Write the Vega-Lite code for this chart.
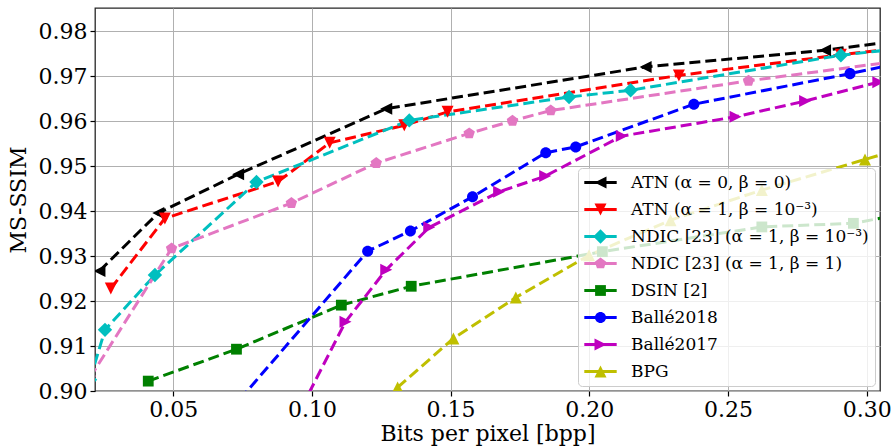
{
  "$schema": "https://vega.github.io/schema/vega-lite/v6.json",
  "width": 785,
  "height": 383,
  "autosize": {"type": "none"},
  "padding": {"left": 95, "top": 8, "right": 15, "bottom": 55},
  "background": "white",
  "config": {
    "font": "DejaVu Serif",
    "view": {"stroke": "#262626", "strokeWidth": 1.3},
    "axis": {
      "labelFont": "DejaVu Serif", "labelFontSize": 22, "labelColor": "#000000",
      "titleFont": "DejaVu Serif", "titleFontSize": 22, "titleFontWeight": "normal", "titleColor": "#000000",
      "gridColor": "#b0b0b0", "gridWidth": 1, "gridOpacity": 1,
      "tickColor": "#000000", "tickSize": 5, "tickWidth": 1.2,
      "domain": false, "labelPadding": 3, "labelOverlap": false
    },
    "legend": {
      "orient": "none", "legendX": 483, "legendY": 160, "title": null,
      "labelFont": "DejaVu Serif", "labelFontSize": 17, "labelColor": "#000000", "labelLimit": 400,
      "padding": 6, "symbolSize": 144, "symbolOffset": 8, "labelOffset": 22, "rowPadding": 9
    }
  },
  "data": {"values": [
    {"method": "ATN (α = 0, β = 0)", "bpp": 0.0234, "msssim": 0.9267},
    {"method": "ATN (α = 0, β = 0)", "bpp": 0.0446, "msssim": 0.9396},
    {"method": "ATN (α = 0, β = 0)", "bpp": 0.0734, "msssim": 0.9482},
    {"method": "ATN (α = 0, β = 0)", "bpp": 0.1268, "msssim": 0.9628},
    {"method": "ATN (α = 0, β = 0)", "bpp": 0.2203, "msssim": 0.9721},
    {"method": "ATN (α = 0, β = 0)", "bpp": 0.2850, "msssim": 0.9758},
    {"method": "ATN (α = 0, β = 0)", "bpp": 0.3200, "msssim": 0.9786},
    {"method": "ATN (α = 1, β = 10⁻³)", "bpp": 0.0275, "msssim": 0.9228},
    {"method": "ATN (α = 1, β = 10⁻³)", "bpp": 0.0470, "msssim": 0.9384},
    {"method": "ATN (α = 1, β = 10⁻³)", "bpp": 0.0878, "msssim": 0.9466},
    {"method": "ATN (α = 1, β = 10⁻³)", "bpp": 0.1064, "msssim": 0.9552},
    {"method": "ATN (α = 1, β = 10⁻³)", "bpp": 0.1333, "msssim": 0.9591},
    {"method": "ATN (α = 1, β = 10⁻³)", "bpp": 0.1489, "msssim": 0.9621},
    {"method": "ATN (α = 1, β = 10⁻³)", "bpp": 0.2323, "msssim": 0.9702},
    {"method": "ATN (α = 1, β = 10⁻³)", "bpp": 0.2907, "msssim": 0.9748},
    {"method": "ATN (α = 1, β = 10⁻³)", "bpp": 0.3200, "msssim": 0.9768},
    {"method": "NDIC [23] (α = 1, β = 10⁻³)", "bpp": 0.0200, "msssim": 0.9025},
    {"method": "NDIC [23] (α = 1, β = 10⁻³)", "bpp": 0.0254, "msssim": 0.9136},
    {"method": "NDIC [23] (α = 1, β = 10⁻³)", "bpp": 0.0434, "msssim": 0.9258},
    {"method": "NDIC [23] (α = 1, β = 10⁻³)", "bpp": 0.0800, "msssim": 0.9465},
    {"method": "NDIC [23] (α = 1, β = 10⁻³)", "bpp": 0.1351, "msssim": 0.9602},
    {"method": "NDIC [23] (α = 1, β = 10⁻³)", "bpp": 0.1927, "msssim": 0.9654},
    {"method": "NDIC [23] (α = 1, β = 10⁻³)", "bpp": 0.2149, "msssim": 0.9669},
    {"method": "NDIC [23] (α = 1, β = 10⁻³)", "bpp": 0.2907, "msssim": 0.9747},
    {"method": "NDIC [23] (α = 1, β = 10⁻³)", "bpp": 0.3200, "msssim": 0.9767},
    {"method": "NDIC [23] (α = 1, β = 1)", "bpp": 0.0200, "msssim": 0.9030},
    {"method": "NDIC [23] (α = 1, β = 1)", "bpp": 0.0494, "msssim": 0.9317},
    {"method": "NDIC [23] (α = 1, β = 1)", "bpp": 0.0926, "msssim": 0.9418},
    {"method": "NDIC [23] (α = 1, β = 1)", "bpp": 0.1232, "msssim": 0.9507},
    {"method": "NDIC [23] (α = 1, β = 1)", "bpp": 0.1567, "msssim": 0.9573},
    {"method": "NDIC [23] (α = 1, β = 1)", "bpp": 0.1723, "msssim": 0.9601},
    {"method": "NDIC [23] (α = 1, β = 1)", "bpp": 0.1861, "msssim": 0.9624},
    {"method": "NDIC [23] (α = 1, β = 1)", "bpp": 0.2574, "msssim": 0.9690},
    {"method": "NDIC [23] (α = 1, β = 1)", "bpp": 0.3200, "msssim": 0.9741},
    {"method": "DSIN [2]", "bpp": 0.0410, "msssim": 0.9022},
    {"method": "DSIN [2]", "bpp": 0.0728, "msssim": 0.9093},
    {"method": "DSIN [2]", "bpp": 0.1106, "msssim": 0.9191},
    {"method": "DSIN [2]", "bpp": 0.1358, "msssim": 0.9233},
    {"method": "DSIN [2]", "bpp": 0.2047, "msssim": 0.9310},
    {"method": "DSIN [2]", "bpp": 0.2622, "msssim": 0.9365},
    {"method": "DSIN [2]", "bpp": 0.2952, "msssim": 0.9373},
    {"method": "DSIN [2]", "bpp": 0.3200, "msssim": 0.9402},
    {"method": "Ballé2018", "bpp": 0.0627, "msssim": 0.8900},
    {"method": "Ballé2018", "bpp": 0.1201, "msssim": 0.9311},
    {"method": "Ballé2018", "bpp": 0.1355, "msssim": 0.9356},
    {"method": "Ballé2018", "bpp": 0.1579, "msssim": 0.9432},
    {"method": "Ballé2018", "bpp": 0.1843, "msssim": 0.9530},
    {"method": "Ballé2018", "bpp": 0.1951, "msssim": 0.9543},
    {"method": "Ballé2018", "bpp": 0.2377, "msssim": 0.9638},
    {"method": "Ballé2018", "bpp": 0.2940, "msssim": 0.9706},
    {"method": "Ballé2018", "bpp": 0.3200, "msssim": 0.9740},
    {"method": "Ballé2017", "bpp": 0.0910, "msssim": 0.8900},
    {"method": "Ballé2017", "bpp": 0.1121, "msssim": 0.9154},
    {"method": "Ballé2017", "bpp": 0.1268, "msssim": 0.9270},
    {"method": "Ballé2017", "bpp": 0.1423, "msssim": 0.9364},
    {"method": "Ballé2017", "bpp": 0.1675, "msssim": 0.9443},
    {"method": "Ballé2017", "bpp": 0.1841, "msssim": 0.9478},
    {"method": "Ballé2017", "bpp": 0.2117, "msssim": 0.9567},
    {"method": "Ballé2017", "bpp": 0.2527, "msssim": 0.9610},
    {"method": "Ballé2017", "bpp": 0.2778, "msssim": 0.9645},
    {"method": "Ballé2017", "bpp": 0.3042, "msssim": 0.9687},
    {"method": "BPG", "bpp": 0.1309, "msssim": 0.9008},
    {"method": "BPG", "bpp": 0.1510, "msssim": 0.9117},
    {"method": "BPG", "bpp": 0.1735, "msssim": 0.9208},
    {"method": "BPG", "bpp": 0.1999, "msssim": 0.9302},
    {"method": "BPG", "bpp": 0.2293, "msssim": 0.9380},
    {"method": "BPG", "bpp": 0.2622, "msssim": 0.9447},
    {"method": "BPG", "bpp": 0.2994, "msssim": 0.9515},
    {"method": "BPG", "bpp": 0.3200, "msssim": 0.9553}
  ]},
  "encoding": {
    "x": {"field": "bpp", "type": "quantitative",
      "scale": {"domain": [0.0218, 0.3048], "nice": false, "zero": false},
      "axis": {"values": [0.05, 0.1, 0.15, 0.2, 0.25, 0.3], "format": ".2f", "title": "Bits per pixel [bpp]", "titlePadding": 3}},
    "y": {"field": "msssim", "type": "quantitative",
      "scale": {"domain": [0.9, 0.9852], "nice": false, "zero": false},
      "axis": {"values": [0.9, 0.91, 0.92, 0.93, 0.94, 0.95, 0.96, 0.97, 0.98], "format": ".2f", "title": "MS-SSIM", "titlePadding": 8}}
  },
  "layer": [
    {
      "mark": {"type": "line", "clip": true, "strokeWidth": 3, "strokeDash": [11, 5]},
      "encoding": {
        "stroke": {"field": "method", "type": "nominal", "sort": null,
          "scale": {"range": ["#000000", "#ff0000", "#00bfbf", "#e377c2", "#008000", "#0000ff", "#bf00bf", "#bfbf00"]},
          "legend": {
            "values": ["ATN (α = 0, β = 0)", "ATN (α = 1, β = 10⁻³)", "NDIC [23] (α = 1, β = 10⁻³)", "NDIC [23] (α = 1, β = 1)", "DSIN [2]", "Ballé2018", "Ballé2017", "BPG"],
            "fillColor": "rgba(255,255,255,0.8)", "strokeColor": "#cccccc", "cornerRadius": 4,
            "symbolType": "M-2.7,0L2.7,0", "symbolStrokeWidth": 3, "symbolDash": [1, 0],
            "encode": {"symbols": {"update": {"strokeDash": {"value": [1, 0]}, "opacity": {"value": 1}}}}
          }
        }
      }
    },
    {
      "mark": {"type": "point", "filled": true, "clip": true, "size": 144, "opacity": 1},
      "encoding": {
        "fill": {"field": "method", "type": "nominal",
          "scale": {
            "domain": ["ATN (α = 0, β = 0)", "ATN (α = 1, β = 10⁻³)", "NDIC [23] (α = 1, β = 10⁻³)", "NDIC [23] (α = 1, β = 1)", "DSIN [2]", "Ballé2018", "Ballé2017", "BPG"],
            "range": ["#000000", "#ff0000", "#00bfbf", "#e377c2", "#008000", "#0000ff", "#bf00bf", "#bfbf00"]
          },
          "legend": {"labelOpacity": 0, "symbolStrokeWidth": 0}
        },
        "shape": {"field": "method", "type": "nominal",
          "scale": {
            "domain": ["ATN (α = 0, β = 0)", "ATN (α = 1, β = 10⁻³)", "NDIC [23] (α = 1, β = 10⁻³)", "NDIC [23] (α = 1, β = 1)", "DSIN [2]", "Ballé2018", "Ballé2017", "BPG"],
            "range": ["M-1,0L1,-1L1,1Z", "M0,1L-1,-1L1,-1Z", "M0,-1.2L1.2,0L0,1.2L-1.2,0Z", "M0,-1L0.951,-0.309L0.588,0.809L-0.588,0.809L-0.951,-0.309Z", "M-0.9,-0.9L0.9,-0.9L0.9,0.9L-0.9,0.9Z", "M-0.92,0A0.92,0.92,0,1,0,0.92,0A0.92,0.92,0,1,0,-0.92,0Z", "M1,0L-1,-1L-1,1Z", "M0,-1L-1,1L1,1Z"]
          },
          "legend": {"labelOpacity": 0, "symbolStrokeWidth": 0}
        }
      }
    }
  ]
}
